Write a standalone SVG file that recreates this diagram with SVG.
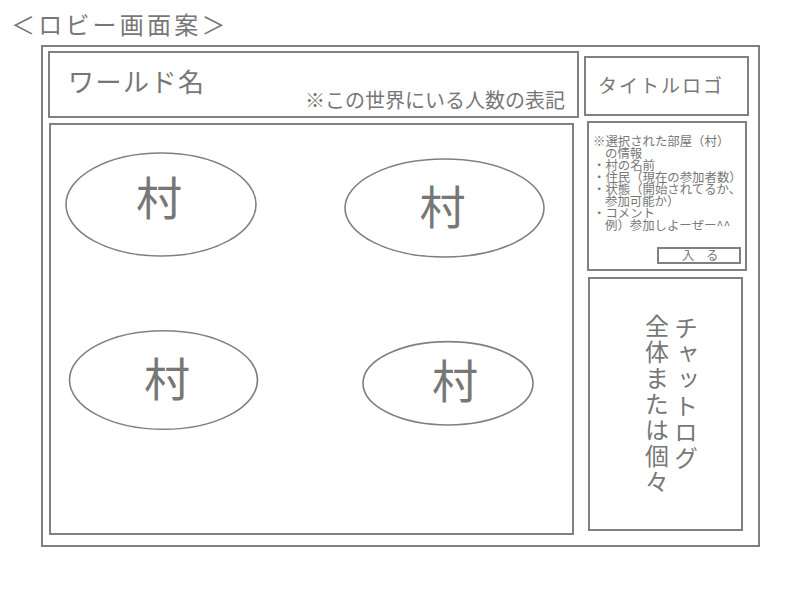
<svg xmlns="http://www.w3.org/2000/svg" width="800" height="600" viewBox="0 0 800 600">
<style>
.box{fill:none;stroke:#808080;stroke-width:2}
.ell{fill:none;stroke:#808080;stroke-width:1.6}
text{font-family:"Noto Sans CJK JP","Noto Sans CJK SC",sans-serif;fill:#777}
.vil{font-size:46px;text-anchor:middle}
.info{font-size:12.4px}
.vert{font-size:24px;writing-mode:vertical-rl;letter-spacing:2px}
</style>
<rect width="800" height="600" fill="#fff"/>
<text x="11" y="34" font-size="24" letter-spacing="3.2">＜ロビー画面案＞</text>
<g id="frame"><rect class="box" x="42" y="46" width="717" height="500"/></g>
<g id="worldname">
<rect class="box" x="49" y="52" width="529" height="65"/>
<text x="68" y="92" font-size="26" letter-spacing="1.5">ワールド名</text>
<text x="305" y="108" font-size="20">※この世界にいる人数の表記</text>
</g>
<g id="titlelogo">
<rect class="box" x="585" y="57" width="163" height="58"/>
<text x="598" y="93" font-size="19" letter-spacing="2">タイトルロゴ</text>
</g>
<g id="villages">
<rect class="box" x="50" y="124" width="523" height="410"/>
</g>
<g id="village1"><ellipse class="ell" cx="161" cy="204.5" rx="95" ry="51.5"/><text class="vil" x="159" y="215">村</text></g>
<g id="village2"><ellipse class="ell" cx="444.5" cy="208" rx="99.5" ry="49"/><text class="vil" x="442.5" y="224">村</text></g>
<g id="village3"><ellipse class="ell" cx="163.5" cy="380" rx="94" ry="49.3"/><text class="vil" x="167" y="396">村</text></g>
<g id="village4"><ellipse class="ell" cx="448" cy="383.3" rx="85" ry="41.7"/><text class="vil" x="455" y="398">村</text></g>
<g id="info">
<rect class="box" x="588" y="122" width="158" height="148"/>
<text class="info" x="593" y="145.5">※選択された部屋（村）<tspan x="605" dy="12">の情報</tspan><tspan x="593" dy="12">・村の名前</tspan><tspan x="593" dy="12">・住民（現在の参加者数）</tspan><tspan x="593" dy="12">・状態（開始されてるか、</tspan><tspan x="605" dy="12">参加可能か）</tspan><tspan x="593" dy="12">・コメント</tspan><tspan x="605" dy="12">例）参加しよーぜー^^</tspan></text>
<g id="enter">
<rect class="box" x="658" y="248" width="82" height="15"/>
<text class="info" x="682" y="259.5">入<tspan x="706">る</tspan></text>
</g>
</g>
<g id="chat">
<rect class="box" x="589" y="278" width="153" height="252"/>
<text class="vert" x="686" y="316">チャットログ</text>
<text class="vert" x="657" y="314">全体または個々</text>
</g>
</svg>
